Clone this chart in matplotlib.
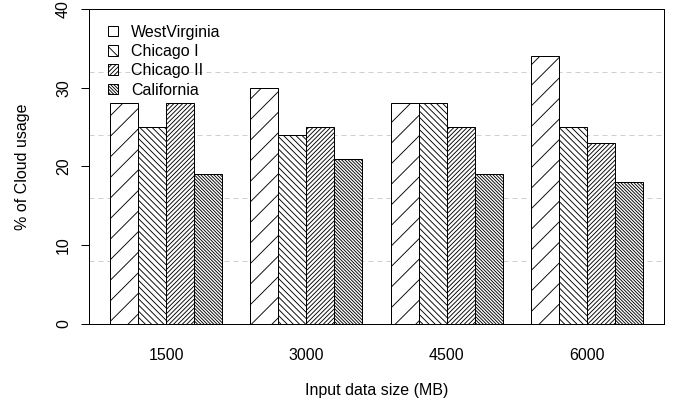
import numpy as np
import matplotlib
matplotlib.use('Agg')
import matplotlib.pyplot as plt
from matplotlib.patches import Patch

# data
sizes = ['1500', '3000', '4500', '6000']
series = ['WestVirginia', 'Chicago I', 'Chicago II', 'California']
west_virginia = [28, 30, 28, 34]
chicago_1 = [25, 24, 28, 25]
chicago_2 = [28, 25, 25, 23]
california = [19, 21, 19, 18]
hatches = ['/' * 3, '\\' * 10, '/' * 14, '\\' * 19]

DPI = 185
def pt(px):
    return px * 72.0 / DPI

plt.rcParams['font.family'] = ['Liberation Sans', 'DejaVu Sans']
plt.rcParams['font.size'] = pt(16)
plt.rcParams['hatch.linewidth'] = pt(0.9)

fig = plt.figure(figsize=(673 / DPI, 408 / DPI), dpi=DPI)
ax = fig.add_axes([89 / 673, 1 - 324 / 408, 575 / 673, 315 / 408])

values = [west_virginia, chicago_1, chicago_2, california]
ngroups = len(sizes)
nser = len(series)
# R style barplot layout: one bar-width gap in front of each group
group_left = np.arange(ngroups) * (nser + 1) + 1
for j, (vals, h) in enumerate(zip(values, hatches)):
    ax.bar(group_left + j + 0.5, vals, width=1.0, facecolor='white',
           edgecolor='black', linewidth=pt(1.0), hatch=h, zorder=2)

for g in [8, 16, 24, 32]:
    ax.axhline(g, color='#cfcfcf', linewidth=pt(1.0), dashes=(5, 4), zorder=1)

lo, hi = 1, ngroups * (nser + 1)
pad = 0.04 * (hi - lo)
ax.set_xlim(lo - pad, hi + pad)
ax.set_ylim(0, 40)

ax.set_xticks(group_left + nser / 2)
ax.set_xticklabels(sizes)
ax.tick_params(axis='x', length=0, pad=pt(24))
ax.set_yticks([0, 10, 20, 30, 40])
ax.tick_params(axis='y', length=pt(8), width=pt(1.0), pad=pt(10))
for t in ax.get_yticklabels():
    t.set_rotation(90)
    t.set_va('center')

for s in ax.spines.values():
    s.set_linewidth(pt(1.0))

ax.set_xlabel('Input data size (MB)', va='center')
ax.xaxis.set_label_coords(0.5, (324 - 390) / 315)
ax.set_ylabel('% of Cloud usage', va='center')
ax.yaxis.set_label_coords((23 - 89) / 575, 0.5)

handles = [Patch(facecolor='white', edgecolor='black', linewidth=pt(1.0), hatch=h)
           for h in ['', '\\' * 3, '/' * 14, '\\' * 19]]
ax.legend(handles, series, loc='upper left', bbox_to_anchor=(19 / 575, 0.95),
          frameon=False, borderaxespad=0, borderpad=0, handlelength=0.65,
          handleheight=0.65, handletextpad=0.8, labelspacing=0.27)

fig.savefig('out.png', dpi=DPI)
